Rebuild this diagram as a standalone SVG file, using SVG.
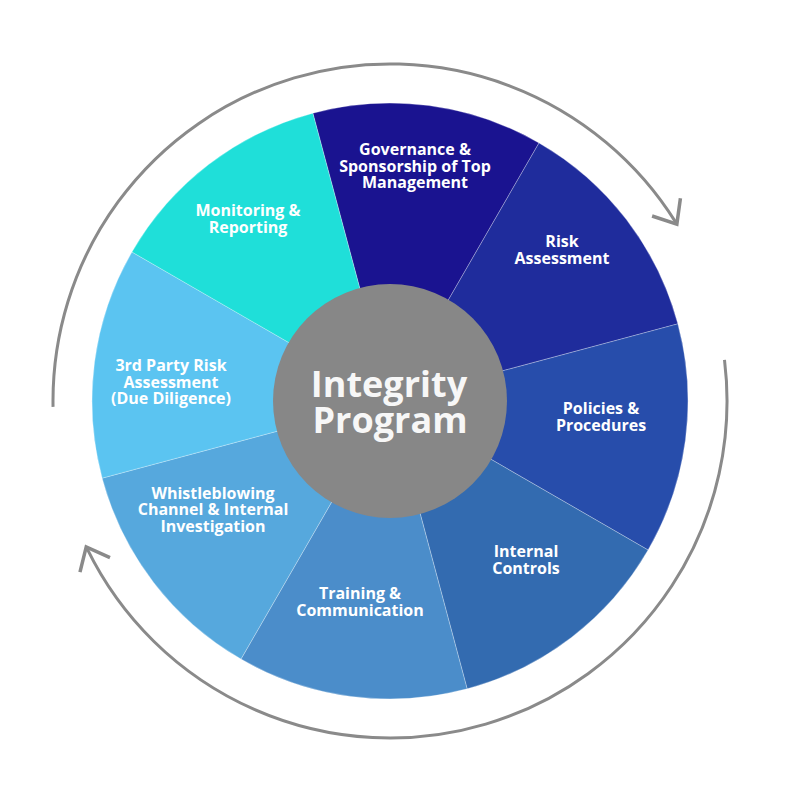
<svg xmlns="http://www.w3.org/2000/svg" width="800" height="803" viewBox="0 0 800 803">
  <style>
    .seg { stroke: rgba(255,255,255,0.35); stroke-width: 0.8; }
    .lbl { font-family: "Open Sans", "Noto Sans", "DejaVu Sans", sans-serif; font-weight: 700; font-size: 16px; fill: #ffffff; text-anchor: middle; }
    .big { font-family: "Open Sans", "Noto Sans", "DejaVu Sans", sans-serif; font-weight: 700; font-size: 36px; fill: #f7f7f7; text-anchor: middle; }
    .arc { fill: none; stroke: #8a8a8a; stroke-width: 3; marker-end: url(#chev); }
  </style>
  <defs>
    <marker id="chev" markerUnits="userSpaceOnUse" viewBox="0 0 40 40" markerWidth="40" markerHeight="40" refX="28" refY="20" orient="auto">
      <path d="M10,3.3 L30,20 L10,36.7" fill="none" stroke="#8a8a8a" stroke-width="3.5"/>
    </marker>
  </defs>
  <rect width="800" height="803" fill="#ffffff"/>

  <g id="governance">
    <path class="seg" fill="#1a1390" d="M390,401 L312.87,113.15 A298,298 0 0 1 539,142.93 Z"/>
    <text class="lbl"><tspan x="415" y="155">Governance &amp;</tspan><tspan x="415" y="171.5">Sponsorship of Top</tspan><tspan x="415" y="188">Management</tspan></text>
  </g>
  <g id="risk-assessment">
    <path class="seg" fill="#1f2c9c" d="M390,401 L539,142.93 A298,298 0 0 1 677.85,323.87 Z"/>
    <text class="lbl"><tspan x="562" y="247">Risk</tspan><tspan x="562" y="263.5">Assessment</tspan></text>
  </g>
  <g id="policies">
    <path class="seg" fill="#274dab" d="M390,401 L677.85,323.87 A298,298 0 0 1 648.07,550 Z"/>
    <text class="lbl"><tspan x="601" y="414">Policies &amp;</tspan><tspan x="601" y="430.5">Procedures</tspan></text>
  </g>
  <g id="internal-controls">
    <path class="seg" fill="#336bb0" d="M390,401 L648.07,550 A298,298 0 0 1 467.13,688.85 Z"/>
    <text class="lbl"><tspan x="526" y="557">Internal</tspan><tspan x="526" y="573.5">Controls</tspan></text>
  </g>
  <g id="training">
    <path class="seg" fill="#4b8dca" d="M390,401 L467.13,688.85 A298,298 0 0 1 241,659.07 Z"/>
    <text class="lbl"><tspan x="360" y="599">Training &amp;</tspan><tspan x="360" y="615.5">Communication</tspan></text>
  </g>
  <g id="whistleblowing">
    <path class="seg" fill="#56a8dd" d="M390,401 L241,659.07 A298,298 0 0 1 102.15,478.13 Z"/>
    <text class="lbl"><tspan x="213" y="498.5">Whistleblowing</tspan><tspan x="213" y="515">Channel &amp; Internal</tspan><tspan x="213" y="531.5">Investigation</tspan></text>
  </g>
  <g id="third-party">
    <path class="seg" fill="#5bc4f1" d="M390,401 L102.15,478.13 A298,298 0 0 1 131.93,252 Z"/>
    <text class="lbl"><tspan x="171" y="371">3rd Party Risk</tspan><tspan x="171" y="387.5">Assessment</tspan><tspan x="171" y="404">(Due Diligence)</tspan></text>
  </g>
  <g id="monitoring">
    <path class="seg" fill="#1fdfd9" d="M390,401 L131.93,252 A298,298 0 0 1 312.87,113.15 Z"/>
    <text class="lbl"><tspan x="248" y="216">Monitoring &amp;</tspan><tspan x="248" y="232.5">Reporting</tspan></text>
  </g>
  <g id="integrity-program">
    <circle cx="390" cy="401" r="117" fill="#878787"/>
    <text class="big"><tspan x="389" y="397">Integrity</tspan><tspan x="390" y="433">Program</tspan></text>
  </g>

  <g id="connectors">
    <path class="arc" d="M53.05,406.88 A337,337 0 0 1 675.8,222.4"/>
    <path class="arc" d="M724.5,359.9 A337,337 0 0 1 87.1,548.7"/>
  </g>
</svg>
